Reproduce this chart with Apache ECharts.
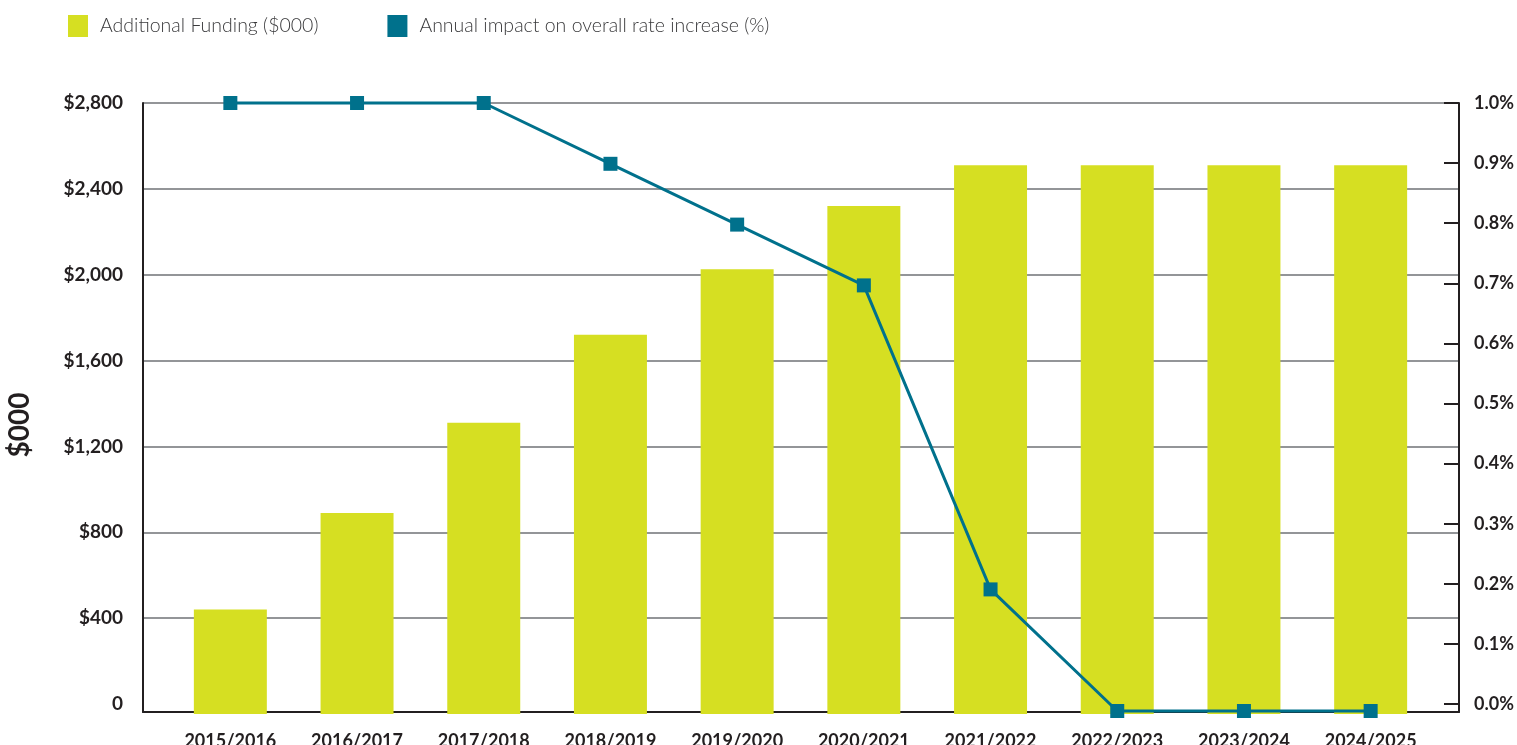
<!DOCTYPE html>
<html>
<head>
<meta charset="utf-8">
<title>Additional Funding and Annual Rate Impact</title>
<script src="https://cdn.jsdelivr.net/npm/echarts@6/dist/echarts.min.js"></script>
<style>
  html, body { margin: 0; padding: 0; background: #ffffff; }
  #chart { width: 1517px; height: 745px; }
</style>
</head>
<body>
<div id="chart"></div>
<script>
// Fiscal years shown along the bottom
const years = ['2015/2016', '2016/2017', '2017/2018', '2018/2019', '2019/2020',
               '2020/2021', '2021/2022', '2022/2023', '2023/2024', '2024/2025'];
// Additional funding, in thousands of dollars
const fundingValues = [440, 890, 1310, 1720, 2025, 2320, 2510, 2510, 2510, 2510];
// Annual impact on the overall rate increase, in percent
const impactValues = [1.0, 1.0, 1.0, 0.9, 0.8, 0.7, 0.2, 0.0, 0.0, 0.0];

const fundingName = 'Additional Funding ($000)';
const impactName = 'Annual impact on overall rate increase (%)';

const LIME = '#d6df22';
const TEAL = '#00718c';
const INK = '#231f20';
const GRID_GREY = '#939598';
const FONT = 'Lato, "DejaVu Sans", sans-serif';

// Vertical frame of the plotting area (px)
const PLOT_TOP = 103;
const ZERO_Y = 704;     // where the labelled scales reach zero
const LINE_ZERO_Y = 711;// the rate line's zero rests on the base line
const FRAME_Y = 712;    // where the horizontal base line sits
const BAR_BLEED = 10;   // bars run a little past the zero line, over the base line

const chart = echarts.init(document.getElementById('chart'), null, { renderer: 'canvas' });

const splitColours = [];
for (let i = 0; i <= 7; i++) splitColours.push(i === 0 ? 'rgba(0,0,0,0)' : GRID_GREY);

const hiddenCategory = (gridIndex) => ({
  gridIndex, type: 'category', data: years, show: false
});

const option = {
  backgroundColor: '#ffffff',
  animation: false,
  textStyle: { fontFamily: FONT },
  legend: {
    left: 68,
    top: 15,
    padding: 0,
    itemWidth: 20,
    itemHeight: 22,
    itemGap: 69,
    icon: 'rect',
    data: [
      { name: fundingName, itemStyle: { color: LIME } },
      { name: impactName, itemStyle: { color: TEAL } }
    ],
    textStyle: { fontFamily: FONT, fontSize: 19.5, fontWeight: 300, color: '#3a3a3c', padding: [3, 0, 0, 7] }
  },
  graphic: [
    {
      type: 'text',
      x: 20,
      y: 425,
      rotation: Math.PI / 2,
      style: {
        text: '$000',
        fontFamily: FONT,
        fontWeight: 'bold',
        fontSize: 28,
        fill: INK,
        align: 'center',
        verticalAlign: 'middle'
      }
    }
  ],
  grid: [
    // 0: scales with labels and gridlines
    { left: 143, right: 58, top: PLOT_TOP, height: ZERO_Y - PLOT_TOP, outerBoundsMode: 'none', containLabel: false },
    // 1: black frame lines
    { left: 143, right: 58, top: PLOT_TOP, height: FRAME_Y - PLOT_TOP, outerBoundsMode: 'none', containLabel: false },
    // 2: category band for the bars
    { left: 167, width: 1267, top: PLOT_TOP, height: ZERO_Y - PLOT_TOP, outerBoundsMode: 'none', containLabel: false },
    // 3: category band for the rate line
    { left: 167, width: 1267, top: PLOT_TOP, height: LINE_ZERO_Y - PLOT_TOP, outerBoundsMode: 'none', containLabel: false }
  ],
  xAxis: [
    { gridIndex: 0, type: 'value', show: false, min: 0, max: 1 },
    { gridIndex: 1, type: 'value', min: 0, max: 1, z: 0,
      axisLine: { show: true, lineStyle: { color: INK, width: 2 } },
      axisTick: { show: false }, axisLabel: { show: false }, splitLine: { show: false } },
    { gridIndex: 2, type: 'category', data: years,
      axisLine: { show: false }, axisTick: { show: false }, splitLine: { show: false },
      axisLabel: { margin: 28, fontFamily: FONT, fontWeight: 'bold', fontSize: 18, color: INK } },
    hiddenCategory(3)
  ],
  yAxis: [
    // 0: left dollar scale
    { gridIndex: 0, type: 'value', position: 'left', min: 0, max: 2800, interval: 400,
      axisLine: { show: false }, axisTick: { show: false },
      axisLabel: {
        margin: 20, fontFamily: FONT, fontWeight: 'bold', fontSize: 19, color: INK,
        formatter: v => v === 0 ? '0' : '$' + v.toLocaleString('en-US')
      },
      splitLine: { show: true, lineStyle: { color: splitColours, width: 2 } } },
    // 1: right percent scale
    { gridIndex: 0, type: 'value', position: 'right', min: 0, max: 1, interval: 0.1,
      axisLine: { show: false },
      axisTick: { show: true, inside: true, length: 15, lineStyle: { color: INK, width: 2 } },
      axisLabel: {
        margin: 15, fontFamily: FONT, fontWeight: 'bold', fontSize: 18, color: INK,
        formatter: v => v.toFixed(1) + '%'
      },
      splitLine: { show: false } },
    // 2, 3: frame verticals
    { gridIndex: 1, type: 'value', position: 'left', min: 0, max: 1, z: 0,
      axisLine: { show: true, lineStyle: { color: INK, width: 2 } },
      axisTick: { show: false }, axisLabel: { show: false }, splitLine: { show: false } },
    { gridIndex: 1, type: 'value', position: 'right', min: 0, max: 1, z: 0,
      axisLine: { show: true, lineStyle: { color: INK, width: 2 } },
      axisTick: { show: false }, axisLabel: { show: false }, splitLine: { show: false } },
    // 4: dollar scale for the bars
    { gridIndex: 2, type: 'value', min: 0, max: 2800, show: false },
    // 5: percent scale for the line
    { gridIndex: 3, type: 'value', min: 0, max: 1, show: false }
  ],
  series: [
    {
      name: fundingName,
      type: 'custom',
      xAxisIndex: 2,
      yAxisIndex: 4,
      clip: false,
      itemStyle: { color: LIME },
      encode: { x: 0, y: 1 },
      data: fundingValues.map((v, i) => [i, v]),
      renderItem: (params, api) => {
        const top = api.coord([api.value(0), api.value(1)]);
        const base = api.coord([api.value(0), 0]);
        const w = api.size([1, 0])[0] * 0.576;
        return {
          type: 'rect',
          shape: { x: top[0] - w / 2, y: top[1], width: w, height: base[1] - top[1] + BAR_BLEED },
          style: { fill: LIME }
        };
      },
      z: 10
    },
    {
      name: impactName,
      type: 'line',
      xAxisIndex: 3,
      yAxisIndex: 5,
      data: impactValues,
      symbol: 'rect',
      symbolSize: 14,
      lineStyle: { color: TEAL, width: 3 },
      itemStyle: { color: TEAL },
      clip: false,
      z: 12
    }
  ]
};

chart.setOption(option);
</script>
</body>
</html>
